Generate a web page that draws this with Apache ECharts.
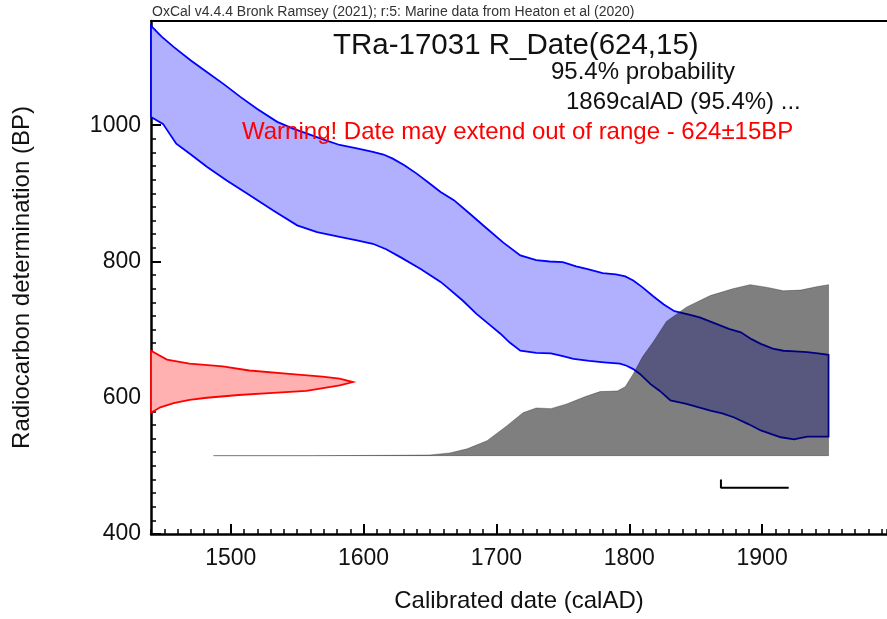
<!DOCTYPE html>
<html>
<head>
<meta charset="utf-8">
<script src="https://cdn.jsdelivr.net/npm/echarts@6/dist/echarts.min.js"></script>
<style>
html, body { margin: 0; padding: 0; background: #fff; }
#chart { width: 887px; height: 619px; }
</style>
</head>
<body>
<div id="chart"></div>
<script>
// calibration curve envelope (Marine20), upper edge
var curveUpperYears = [1440, 1448, 1457, 1470, 1482, 1495, 1507, 1520, 1535, 1547, 1557, 1570, 1582, 1595, 1607, 1615, 1622, 1631, 1640, 1650, 1658, 1668, 1680, 1693, 1705, 1718, 1730, 1740, 1750, 1760, 1768, 1780, 1790, 1797, 1803, 1810, 1818, 1826, 1834, 1845, 1853, 1866, 1875, 1884, 1892, 1899, 1908, 1916, 1925, 1934, 1942, 1950];
var curveUpperBP = [1146, 1130, 1115, 1095, 1078, 1060, 1042, 1024, 1005, 995, 988, 979, 971, 966, 961, 957, 951, 941, 929, 914, 902, 890, 870, 848, 828, 809, 802, 800, 799, 793, 789, 783, 781, 778, 772, 762, 749, 737, 727, 722, 718, 708, 701, 696, 686, 679, 672, 669, 668, 667, 665, 663];
// lower edge
var curveLowerYears = [1440, 1449, 1459, 1470, 1482, 1497, 1512, 1532, 1550, 1565, 1582, 1595, 1607, 1617, 1628, 1643, 1658, 1663, 1675, 1685, 1695, 1703, 1710, 1718, 1730, 1741, 1750, 1758, 1770, 1781, 1793, 1798, 1803, 1808, 1816, 1823, 1831, 1843, 1861, 1870, 1879, 1890, 1899, 1914, 1924, 1934, 1950];
var curveLowerBP = [1012, 1002, 973, 957, 939, 919, 900, 875, 853, 843, 836, 831, 826, 818, 806, 789, 770, 762, 742, 723, 707, 694, 681, 669, 666, 665, 661, 657, 654, 652, 650, 647, 642, 635, 620, 610, 596, 591, 581, 577, 571, 561, 552, 542, 539, 543, 543];

// R_Date(624,15) on the BP axis: width in years out from the axis
var rDateBP = [578, 586, 592, 597, 600, 604, 607, 610, 618, 623, 628, 631, 635, 640, 646, 650, 656, 669];
var rDateWidth = [0, 7, 17, 29, 42, 66, 92, 117, 142, 152, 142, 129, 104, 74, 54, 29, 12, 0];

// calibrated date distribution, top edge in BP units
var calYears = [1487, 1560, 1620, 1650, 1665, 1678, 1693, 1708, 1720, 1730, 1741, 1753, 1766, 1778, 1791, 1797, 1803, 1810, 1818, 1828, 1843, 1861, 1878, 1891, 1904, 1916, 1929, 1941, 1950];
var calTop = [515, 515, 515.5, 516, 519, 525, 537, 559, 578, 585, 584, 591, 601, 609, 610, 616, 635, 660, 682, 712, 733, 750, 760, 766, 762, 757, 758, 763, 766];
var calBase = 515;

// 95.4% range
var rangeFrom = 1869;
var rangeTo = 1920;

var xLabels = [1500, 1600, 1700, 1800, 1900];
var yLabels = [400, 600, 800, 1000];

var X_MIN = 1440, X_MAX = 1994, Y_MIN = 400, Y_MAX = 1153;
var FONT = 'Liberation Sans, Arial, sans-serif';

var polygonSeries = function (points, style, z) {
    return {
        type: 'custom',
        xAxisIndex: 0,
        yAxisIndex: 0,
        silent: true,
        z: z,
        data: points,
        renderItem: function (params, api) {
            if (params.dataIndex !== 0) {
                return;
            }
            var pts = points.map(function (p) {
                return api.coord(p);
            });
            return {
                type: 'polygon',
                shape: { points: pts },
                style: style
            };
        }
    };
};

var plainNumber = function (v) {
    return String(v);
};

var bandPoints = [];
curveUpperYears.forEach(function (y, i) {
    bandPoints.push([y, curveUpperBP[i]]);
});
for (var i = curveLowerYears.length - 1; i >= 0; i--) {
    bandPoints.push([curveLowerYears[i], curveLowerBP[i]]);
}

var rDatePoints = rDateBP.map(function (bp, i) {
    return [X_MIN + rDateWidth[i], bp];
});

var calPoints = calYears.map(function (y, i) {
    return [y, calTop[i]];
});
calPoints.push([calYears[calYears.length - 1], calBase]);
calPoints.push([calYears[0], calBase]);

var options = {
    animation: false,
    backgroundColor: '#fff',
    textStyle: { fontFamily: FONT },
    grid: [
        { left: 151, top: 21, right: 0, bottom: 85 },
        { left: 151, top: 21, right: 0, bottom: 85 }
    ],
    xAxis: [
        {
            type: 'value',
            gridIndex: 0,
            min: X_MIN,
            max: X_MAX,
            name: 'Calibrated date (calAD)',
            nameLocation: 'middle',
            nameGap: 55,
            nameTextStyle: { fontSize: 24, color: '#111', fontFamily: FONT },
            axisLine: { show: true, onZero: false, lineStyle: { color: '#000', width: 2.5 } },
            axisTick: { show: true, inside: true, length: 10, customValues: xLabels, lineStyle: { color: '#000', width: 2 } },
            axisLabel: { customValues: xLabels, formatter: plainNumber, fontSize: 23, color: '#111', margin: 13, fontFamily: FONT },
            splitLine: { show: false }
        },
        {
            type: 'value',
            gridIndex: 1,
            min: X_MIN,
            max: X_MAX,
            interval: 10,
            position: 'bottom',
            axisLine: { show: false },
            axisTick: { show: true, inside: true, length: 5, lineStyle: { color: '#000', width: 1.5 } },
            axisLabel: { show: false },
            splitLine: { show: false }
        },
        {
            type: 'value',
            gridIndex: 1,
            min: X_MIN,
            max: X_MAX,
            position: 'top',
            axisLine: { show: true, onZero: false, lineStyle: { color: '#000', width: 2 } },
            axisTick: { show: false },
            axisLabel: { show: false },
            splitLine: { show: false }
        }
    ],
    yAxis: [
        {
            type: 'value',
            gridIndex: 0,
            min: Y_MIN,
            max: Y_MAX,
            name: 'Radiocarbon determination (BP)',
            nameLocation: 'middle',
            nameGap: 117,
            nameTextStyle: { fontSize: 24, color: '#111', fontFamily: FONT },
            axisLine: { show: true, onZero: false, lineStyle: { color: '#000', width: 2.5 } },
            axisTick: { show: true, inside: true, length: 10, customValues: yLabels, lineStyle: { color: '#000', width: 2 } },
            axisLabel: { customValues: yLabels, formatter: plainNumber, fontSize: 23, color: '#111', margin: 10, fontFamily: FONT },
            splitLine: { show: false }
        },
        {
            type: 'value',
            gridIndex: 1,
            min: Y_MIN,
            max: Y_MAX,
            interval: 20,
            position: 'left',
            axisLine: { show: false },
            axisTick: { show: true, inside: true, length: 5, lineStyle: { color: '#000', width: 1.5 } },
            axisLabel: { show: false },
            splitLine: { show: false }
        }
    ],
    graphic: [
        { type: 'text', z: 100, left: 152, top: 5, style: { text: 'OxCal v4.4.4 Bronk Ramsey (2021); r:5: Marine data from Heaton et al (2020)', font: '14px ' + FONT, fill: '#333' } },
        { type: 'text', z: 100, left: 333, top: 31, style: { text: 'TRa-17031 R_Date(624,15)', font: '29.5px ' + FONT, fill: '#111' } },
        { type: 'text', z: 100, left: 551, top: 60, style: { text: '95.4% probability', font: '24px ' + FONT, fill: '#111' } },
        { type: 'text', z: 100, left: 566, top: 90, style: { text: '1869calAD (95.4%) ...', font: '24px ' + FONT, fill: '#111' } },
        { type: 'text', z: 100, left: 242, top: 120, style: { text: 'Warning! Date may extend out of range - 624\u00b115BP', font: '24px ' + FONT, fill: '#ff0000' } }
    ],
    series: [
        polygonSeries(bandPoints, { fill: '#b0b0ff', stroke: '#0000ff', lineWidth: 1.8 }, 2),
        polygonSeries(calPoints, { fill: 'rgba(0,0,0,0.5)', stroke: 'rgba(0,0,0,0.3)', lineWidth: 1 }, 3),
        polygonSeries(rDatePoints, { fill: '#ffb0b0', stroke: '#ff0000', lineWidth: 1.8 }, 3),
        {
            type: 'line',
            xAxisIndex: 0,
            yAxisIndex: 0,
            silent: true,
            symbol: 'none',
            z: 4,
            lineStyle: { color: '#000', width: 2 },
            data: [[rangeFrom, 480], [rangeFrom, 468], [rangeTo, 468]]
        }
    ]
};

var chart = echarts.init(document.getElementById('chart'));
chart.setOption(options);
</script>
</body>
</html>
